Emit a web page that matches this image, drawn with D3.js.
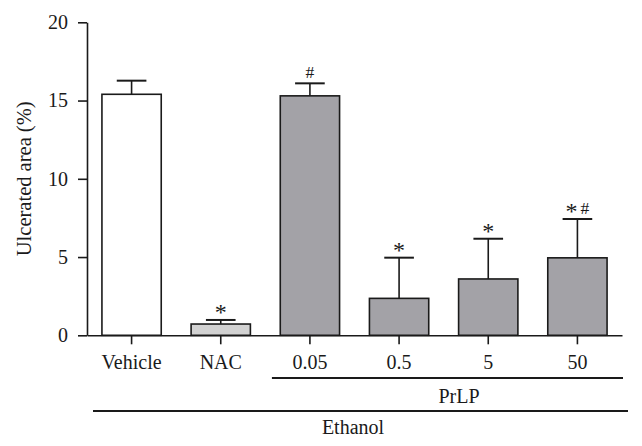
<!DOCTYPE html>
<html>
<head>
<meta charset="utf-8">
<title>Ulcerated area</title>
<script src="https://d3js.org/d3.v7.min.js"></script>
<style>
    body { margin: 0; background: #fff; }
    svg { display: block; }
    text { font-family: "Liberation Serif", "Times New Roman", serif; fill: #1a1a1a; }
    .axis path, .axis line { stroke: #1a1a1a; stroke-width: 1.6px; }
    .axis text { font-size: 20px; }
</style>
</head>
<body>
<div id="chart"></div>
<script>
// values
var categories = ["Vehicle", "NAC", "0.05", "0.5", "5", "50"];
var means = [15.4, 0.72, 15.3, 2.36, 3.6, 4.95];
var sems = [0.87, 0.26, 0.8, 2.6, 2.57, 2.48];
var marks = ["", "*", "#", "*", "*", "*#"];
var groups = ["vehicle", "nac", "prlp", "prlp", "prlp", "prlp"];
var yTicks = [0, 5, 10, 15, 20];
var yLabel = "Ulcerated area (%)";

var fills = { vehicle: "#ffffff", nac: "#d2d2d2", prlp: "#a3a2a7" };

var W = 642, H = 446;
var x0 = 87, x1 = 622, yTop = 22.3, yBot = 335.3;

var svg = d3.select("#chart").append("svg")
    .attr("width", W)
    .attr("height", H);

var x = d3.scaleBand()
    .domain(categories)
    .range([x0, x1])
    .paddingInner(0.335)
    .paddingOuter(0.1675);

var y = d3.scaleLinear().domain([0, 20]).range([yBot, yTop]);

var data = categories.map(function(c, i) {
    return { cat: c, mean: means[i], sem: sems[i], mark: marks[i], group: groups[i] };
});

// bars
svg.selectAll(".bar")
    .data(data)
    .enter().append("rect")
    .attr("class", "bar")
    .attr("x", function(d) { return x(d.cat); })
    .attr("y", function(d) { return y(d.mean); })
    .attr("width", x.bandwidth())
    .attr("height", function(d) { return yBot - y(d.mean); })
    .attr("fill", function(d) { return fills[d.group]; })
    .attr("stroke", "#1a1a1a")
    .attr("stroke-width", 1.6);

// upper error bars
var cx = function(d) { return x(d.cat) + x.bandwidth() / 2; };
var capW = x.bandwidth() / 4;

svg.selectAll(".err")
    .data(data)
    .enter().append("line")
    .attr("x1", cx).attr("x2", cx)
    .attr("y1", function(d) { return y(d.mean); })
    .attr("y2", function(d) { return y(d.mean + d.sem); })
    .attr("stroke", "#1a1a1a").attr("stroke-width", 1.6);

svg.selectAll(".cap")
    .data(data)
    .enter().append("line")
    .attr("x1", function(d) { return cx(d) - capW; })
    .attr("x2", function(d) { return cx(d) + capW; })
    .attr("y1", function(d) { return y(d.mean + d.sem); })
    .attr("y2", function(d) { return y(d.mean + d.sem); })
    .attr("stroke", "#1a1a1a").attr("stroke-width", 2);

// significance marks
var mk = svg.selectAll(".mark")
    .data(data.filter(function(d) { return d.mark; }))
    .enter().append("text")
    .attr("x", cx)
    .attr("y", function(d) { return y(d.mean + d.sem) - 5.5; })
    .attr("text-anchor", "middle")
    .style("font-size", "17.5px");

mk.each(function(d) {
    var t = d3.select(this);
    var shifted = false;
    d.mark.split("").forEach(function(ch, i) {
        var s = t.append("tspan").text(ch);
        if (ch == "*") {
            s.style("font-size", "24px").attr("dy", 5.5);
            shifted = true;
        } else if (shifted) {
            s.attr("dy", -5.5).attr("dx", 3);
            shifted = false;
        }
    });
});

// axes
svg.append("g")
    .attr("class", "axis")
    .attr("transform", "translate(" + x0 + ",0)")
    .call(d3.axisLeft(y).tickValues(yTicks).tickSize(9).tickSizeOuter(0).tickPadding(10));

svg.append("g")
    .attr("class", "axis")
    .attr("transform", "translate(0," + yBot + ")")
    .call(d3.axisBottom(x).tickSize(9).tickSizeOuter(0).tickPadding(11));

svg.selectAll(".axis .tick text").attr("fill", "#1a1a1a");

// y label
svg.append("text")
    .attr("transform", "translate(31," + ((yTop + yBot) / 2) + ") rotate(-90)")
    .attr("text-anchor", "middle")
    .style("font-size", "20.5px")
    .text(yLabel);

// group brackets
var prlpL = x("0.05") + x.bandwidth() / 2 - 38;
svg.append("line")
    .attr("x1", prlpL).attr("x2", x1 + 1)
    .attr("y1", 378).attr("y2", 378)
    .attr("stroke", "#1a1a1a").attr("stroke-width", 1.8);
svg.append("text")
    .attr("x", 459).attr("y", 403)
    .attr("text-anchor", "middle")
    .style("font-size", "20px")
    .text("PrLP");

svg.append("line")
    .attr("x1", x0 + 6).attr("x2", x1 + 6)
    .attr("y1", 411).attr("y2", 411)
    .attr("stroke", "#1a1a1a").attr("stroke-width", 1.8);
svg.append("text")
    .attr("x", 353).attr("y", 434)
    .attr("text-anchor", "middle")
    .style("font-size", "20px")
    .text("Ethanol");
</script>
</body>
</html>
